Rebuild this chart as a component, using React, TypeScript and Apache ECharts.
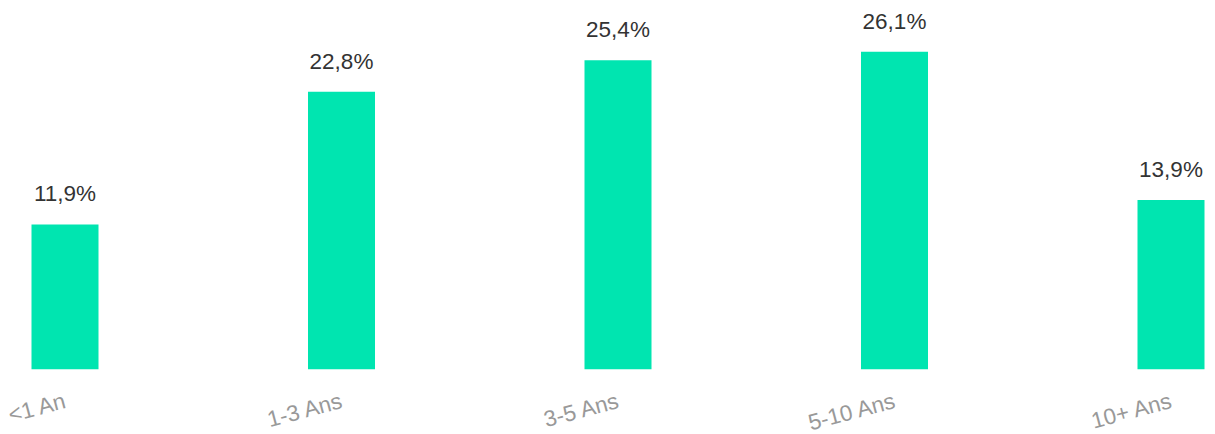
import React, { useEffect, useRef } from "react";
import * as echarts from "echarts";

const categories = ["<1 An", "1-3 Ans", "3-5 Ans", "5-10 Ans", "10+ Ans"];
const values = [11.9, 22.8, 25.4, 26.1, 13.9];

export default function App() {
  const ref = useRef<HTMLDivElement>(null);
  useEffect(() => {
    document.body.style.margin = "0";
    if (!ref.current) return;
    const chart = echarts.init(ref.current, undefined, { renderer: "svg" });
    chart.setOption({
      animation: false,
      grid: { left: 65, right: 44, top: 28.5, bottom: 64.7, containLabel: false, outerBoundsMode: "none" },
      xAxis: {
        type: "category",
        data: categories,
        boundaryGap: false,
        axisLine: { show: false },
        axisTick: { show: false },
        splitLine: { show: false },
        axisLabel: {
          rotate: 15,
          margin: 31,
          color: "#999999",
          fontSize: 22.5,
          fontFamily: "Liberation Sans, Arial, sans-serif",
          interval: 0,
        },
      },
      yAxis: {
        type: "value",
        min: 0,
        max: 28,
        show: false,
        splitLine: { show: false },
      },
      series: [
        {
          type: "bar",
          data: values,
          barWidth: 67,
          itemStyle: { color: "#00E5B0" },
          label: {
            show: true,
            position: "top",
            distance: 19,
            color: "#333333",
            fontSize: 22.5,
            fontFamily: "Liberation Sans, Arial, sans-serif",
            formatter: (p: any) => p.value.toFixed(1).replace(".", ",") + "%",
          },
        },
      ],
    });
    return () => chart.dispose();
  }, []);
  return <div ref={ref} style={{ width: 1215, height: 434 }} />;
}
